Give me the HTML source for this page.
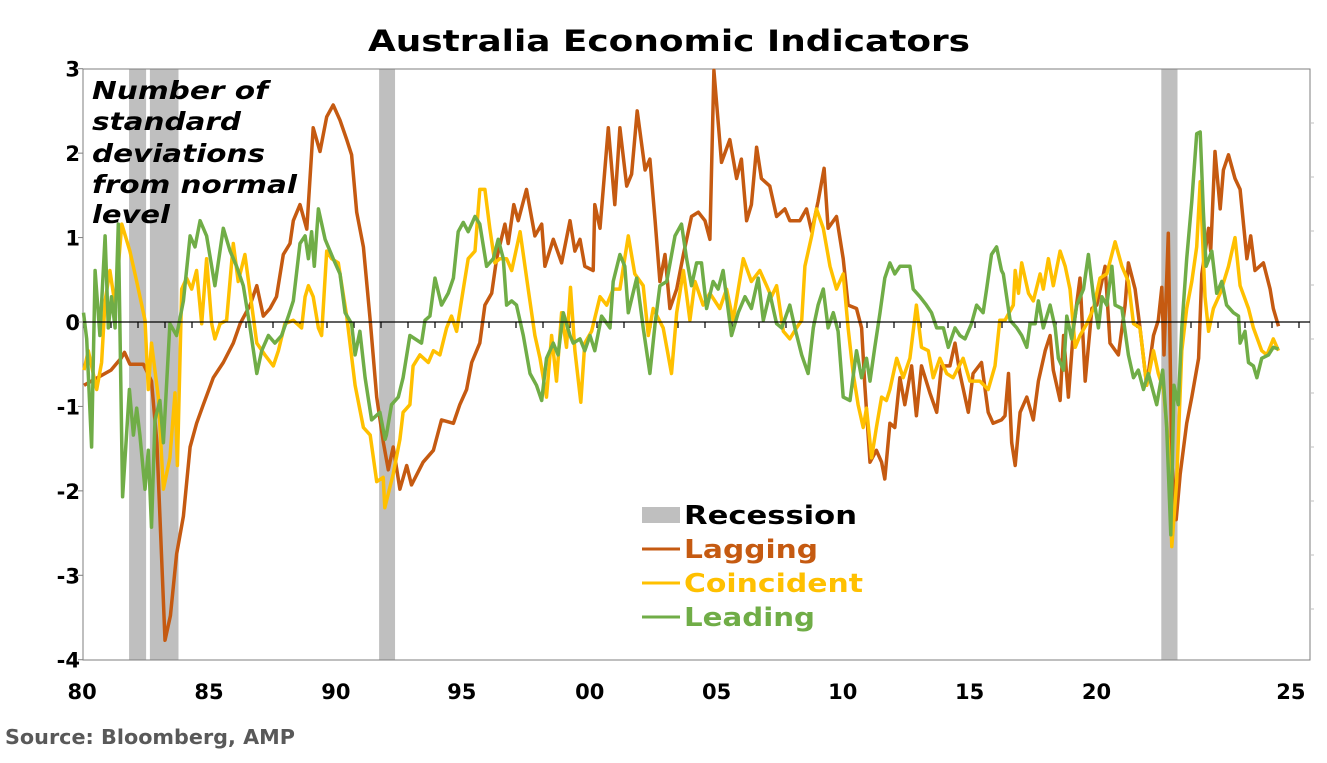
<!DOCTYPE html>
<html><head><meta charset="utf-8"><style>
body{margin:0;background:#fff;width:1327px;height:759px;overflow:hidden;font-family:"DejaVu Sans","Liberation Sans",sans-serif}
</style></head><body>
<svg id="chart" width="1327" height="759" xmlns="http://www.w3.org/2000/svg" font-family="DejaVu Sans, Liberation Sans, sans-serif">
<text x="368" y="51" font-size="29" font-weight="bold" textLength="602" lengthAdjust="spacingAndGlyphs">Australia Economic Indicators</text>
<g id="plot"></g>
<g font-size="25" font-weight="bold" font-style="italic">
<text x="92" y="99" textLength="176" lengthAdjust="spacingAndGlyphs">Number of</text>
<text x="92" y="130" textLength="149" lengthAdjust="spacingAndGlyphs">standard</text>
<text x="92" y="162" textLength="173" lengthAdjust="spacingAndGlyphs">deviations</text>
<text x="92" y="193" textLength="205" lengthAdjust="spacingAndGlyphs">from normal</text>
<text x="92" y="223" textLength="78" lengthAdjust="spacingAndGlyphs">level</text>
</g>
<g font-size="26" font-weight="bold">
<rect x="642" y="507" width="38" height="16" fill="#BFBFBF"/>
<text x="684" y="524" fill="#000" textLength="173" lengthAdjust="spacingAndGlyphs">Recession</text>
<line x1="642" y1="549" x2="680" y2="549" stroke="#C55A11" stroke-width="3"/>
<text x="684" y="558" fill="#C55A11" textLength="134" lengthAdjust="spacingAndGlyphs">Lagging</text>
<line x1="642" y1="583" x2="680" y2="583" stroke="#FFC000" stroke-width="3"/>
<text x="684" y="592" fill="#FFC000" textLength="179" lengthAdjust="spacingAndGlyphs">Coincident</text>
<line x1="642" y1="617" x2="680" y2="617" stroke="#70AD47" stroke-width="3"/>
<text x="684" y="626" fill="#70AD47" textLength="131" lengthAdjust="spacingAndGlyphs">Leading</text>
</g>
<text x="5" y="744" font-size="20" font-weight="bold" fill="#595959" textLength="290" lengthAdjust="spacingAndGlyphs">Source: Bloomberg, AMP</text>
</svg>
<script>
const recStart=[1981.67,1982.44,1990.93,2019.9];
const recEnd=[1982.3,1983.5,1991.52,2020.5];
const yTicks=[3,2,1,0,-1,-2,-3,-4];
const xTickLabels=["80","85","90","95","00","05","10","15","20","25"];
const xLabelYears=[1979.93,1984.63,1989.33,1993.99,1998.73,2003.43,2008.1,2012.8,2017.5,2024.7];
const lagYears=[1980.0,1980.5,1981.0,1981.37,1981.5,1981.7,1982.2,1982.5,1982.7,1983.0,1983.2,1983.43,1983.68,1983.93,1984.17,1984.42,1984.79,1985.16,1985.53,1985.78,1986.15,1986.4,1986.64,1986.89,1987.13,1987.38,1987.63,1987.75,1988.0,1988.25,1988.49,1988.74,1988.99,1989.23,1989.48,1989.73,1989.91,1990.1,1990.35,1990.6,1990.84,1991.09,1991.27,1991.45,1991.7,1991.95,1992.13,1992.56,1992.94,1993.24,1993.68,1993.92,1994.17,1994.36,1994.66,1994.85,1995.1,1995.28,1995.59,1995.71,1995.92,1996.08,1996.39,1996.7,1996.95,1997.07,1997.38,1997.69,1998.0,1998.18,1998.37,1998.55,1998.86,1998.92,1999.11,1999.42,1999.66,1999.85,2000.1,2000.28,2000.49,2000.78,2000.96,2001.15,2001.33,2001.52,2001.7,2001.95,2002.2,2002.5,2002.75,2003.0,2003.18,2003.33,2003.61,2003.92,2004.17,2004.35,2004.54,2004.72,2004.91,2005.09,2005.4,2005.65,2005.96,2006.14,2006.51,2006.76,2006.95,2007.19,2007.41,2007.56,2007.87,2008.12,2008.3,2008.61,2008.8,2008.92,2009.11,2009.35,2009.54,2009.66,2009.85,2010.03,2010.22,2010.4,2010.65,2010.83,2011.02,2011.33,2011.58,2011.76,2012.07,2012.26,2012.44,2012.75,2012.93,2013.24,2013.49,2013.67,2013.98,2014.11,2014.24,2014.36,2014.49,2014.67,2014.92,2015.16,2015.35,2015.6,2015.78,2015.9,2016.15,2016.28,2016.46,2016.65,2016.89,2017.08,2017.33,2017.51,2017.82,2018.0,2018.31,2018.56,2018.68,2018.93,2019.11,2019.36,2019.61,2019.79,2019.92,2020.0,2020.16,2020.29,2020.45,2020.6,2020.84,2021.03,2021.28,2021.4,2021.65,2021.73,2021.89,2022.08,2022.2,2022.39,2022.63,2022.82,2023.07,2023.21,2023.37,2023.68,2023.93,2024.05,2024.24];
const lagVals=[-0.75,-0.66,-0.57,-0.43,-0.36,-0.5,-0.5,-0.7,-1.43,-3.77,-3.48,-2.75,-2.3,-1.48,-1.2,-0.98,-0.66,-0.48,-0.25,-0.02,0.2,0.43,0.07,0.16,0.3,0.8,0.93,1.2,1.39,1.1,2.3,2.02,2.43,2.57,2.39,2.16,1.98,1.3,0.89,0.02,-0.89,-1.43,-1.75,-1.48,-1.98,-1.7,-1.93,-1.66,-1.52,-1.16,-1.2,-0.98,-0.8,-0.48,-0.25,0.2,0.34,0.75,1.16,0.93,1.39,1.2,1.57,1.02,1.16,0.66,0.98,0.7,1.2,0.84,0.98,0.66,0.61,1.39,1.11,2.3,1.39,2.3,1.61,1.75,2.5,1.8,1.93,1.2,0.48,0.8,0.16,0.39,0.8,1.25,1.3,1.2,0.98,2.98,1.89,2.16,1.7,1.93,1.2,1.39,2.07,1.7,1.61,1.25,1.34,1.2,1.2,1.34,1.07,1.43,1.82,1.11,1.25,0.75,0.2,0.16,-0.07,-0.75,-1.66,-1.52,-1.66,-1.86,-1.2,-1.25,-0.66,-0.98,-0.52,-1.11,-0.52,-0.84,-1.07,-0.52,-0.52,-0.25,-0.61,-1.07,-0.61,-0.48,-1.07,-1.2,-1.16,-1.11,-0.61,-1.43,-1.7,-1.07,-0.89,-1.16,-0.7,-0.34,-0.16,-0.57,-0.93,-0.16,-0.89,-0.07,0.52,-0.7,0.16,0.2,0.66,-0.25,-0.39,0.2,0.7,0.39,-0.07,-0.75,-0.16,0.02,0.41,-0.39,1.05,-1.66,-2.34,-1.8,-1.2,-0.89,-0.43,0.57,1.11,0.84,2.02,1.34,1.8,1.98,1.7,1.57,0.75,1.02,0.61,0.7,0.39,0.16,-0.05];
const coinYears=[1980.0,1980.16,1980.47,1980.65,1980.78,1980.96,1981.15,1981.4,1981.7,1981.95,1982.26,1982.38,1982.5,1982.75,1982.94,1983.18,1983.37,1983.46,1983.62,1983.8,1983.99,1984.17,1984.36,1984.54,1984.73,1984.85,1985.04,1985.28,1985.53,1985.71,1985.96,1986.21,1986.4,1986.7,1987.01,1987.2,1987.44,1987.75,1988.06,1988.19,1988.31,1988.49,1988.68,1988.8,1988.99,1989.17,1989.42,1989.73,1990.04,1990.35,1990.6,1990.84,1991.08,1991.14,1991.45,1991.7,1991.82,1992.07,1992.19,1992.44,1992.75,1992.94,1993.18,1993.43,1993.61,1993.8,1994.05,1994.23,1994.48,1994.66,1994.85,1995.03,1995.22,1995.4,1995.65,1995.84,1996.15,1996.45,1996.7,1996.89,1997.13,1997.32,1997.5,1997.69,1997.87,1998.02,1998.18,1998.4,1998.55,1998.8,1999.11,1999.36,1999.6,1999.85,2000.16,2000.4,2000.71,2000.9,2001.08,2001.45,2001.76,2001.95,2002.2,2002.44,2002.63,2002.93,2003.18,2003.55,2003.8,2004.04,2004.42,2004.72,2005.03,2005.28,2005.46,2005.65,2005.9,2006.14,2006.39,2006.58,2006.7,2006.95,2007.13,2007.38,2007.63,2007.87,2008.12,2008.3,2008.49,2008.67,2008.86,2008.98,2009.17,2009.35,2009.54,2009.72,2009.85,2010.1,2010.34,2010.59,2010.83,2011.02,2011.27,2011.45,2011.7,2011.95,2012.19,2012.56,2012.81,2013.18,2013.49,2013.74,2013.92,2014.11,2014.42,2014.49,2014.61,2014.73,2014.98,2015.16,2015.41,2015.53,2015.72,2015.9,2016.15,2016.34,2016.52,2016.71,2016.89,2017.14,2017.39,2017.63,2017.88,2018.19,2018.44,2018.68,2018.87,2019.11,2019.36,2019.61,2019.79,2019.98,2020.16,2020.29,2020.47,2020.66,2020.84,2021.03,2021.21,2021.34,2021.52,2021.65,2021.83,2022.08,2022.39,2022.63,2022.82,2023.13,2023.31,2023.62,2023.81,2024.05,2024.24];
const coinVals=[-0.57,-0.34,-0.8,-0.48,0.25,0.61,0.2,1.16,0.84,0.48,0.02,-0.8,-0.25,-0.89,-1.98,-1.61,-0.84,-1.7,0.39,0.52,0.39,0.61,-0.02,0.75,-0.02,-0.2,-0.02,0.02,0.93,0.48,0.8,0.2,-0.25,-0.39,-0.52,-0.34,-0.02,0.02,-0.07,0.3,0.43,0.3,-0.07,-0.16,0.84,0.75,0.7,0.07,-0.75,-1.25,-1.34,-1.89,-1.84,-2.2,-1.8,-1.39,-1.07,-0.98,-0.52,-0.39,-0.48,-0.34,-0.39,-0.07,0.07,-0.11,0.39,0.75,0.84,1.57,1.57,1.11,0.7,0.75,0.75,0.61,1.07,0.39,-0.16,-0.43,-0.89,-0.16,-0.7,0.11,-0.3,0.41,-0.34,-0.95,-0.25,-0.11,0.3,0.2,0.39,0.39,1.02,0.57,0.43,-0.16,0.16,-0.07,-0.61,0.11,0.61,0.02,0.48,0.2,0.34,0.16,0.39,0.02,0.75,0.48,0.61,0.43,0.3,0.43,-0.11,-0.2,-0.07,0.02,0.66,1.02,1.34,1.11,0.66,0.39,0.57,-0.07,-0.61,-0.98,-1.25,-1.02,-1.61,-1.25,-0.89,-0.93,-0.8,-0.43,-0.66,-0.43,0.2,-0.3,-0.34,-0.66,-0.43,-0.61,-0.66,-0.43,-0.7,-0.7,-0.8,-0.52,0.02,0.02,0.2,0.61,0.34,0.7,0.34,0.25,0.57,0.39,0.75,0.43,0.84,0.66,0.39,-0.3,-0.16,-0.02,0.16,0.52,0.57,0.95,0.66,0.48,-0.02,-0.07,-0.75,-0.34,-0.61,-0.8,-1.43,-2.66,-1.89,-0.34,0.16,0.48,0.89,1.66,0.3,-0.11,0.16,0.34,0.66,1.0,0.43,0.16,-0.07,-0.34,-0.39,-0.2,-0.34];
const leadYears=[1979.98,1980.1,1980.28,1980.41,1980.59,1980.78,1980.9,1981.02,1981.15,1981.27,1981.43,1981.68,1981.83,1981.95,1982.07,1982.26,1982.38,1982.5,1982.63,1982.81,1982.94,1983.18,1983.43,1983.68,1983.93,1984.11,1984.3,1984.54,1984.85,1985.16,1985.41,1985.65,1985.9,1986.15,1986.4,1986.58,1986.83,1987.07,1987.32,1987.57,1987.75,1988.0,1988.19,1988.31,1988.43,1988.53,1988.68,1988.93,1989.23,1989.48,1989.67,1989.91,1990.04,1990.22,1990.41,1990.65,1990.96,1991.15,1991.2,1991.39,1991.64,1991.82,1992.07,1992.5,1992.63,1992.81,1993.0,1993.24,1993.49,1993.68,1993.86,1994.05,1994.23,1994.48,1994.66,1994.91,1995.16,1995.34,1995.53,1995.65,1995.84,1996.02,1996.27,1996.52,1996.76,1996.95,1997.13,1997.38,1997.56,1997.75,1998.0,1998.12,1998.37,1998.55,1998.74,1998.92,1999.17,1999.48,1999.6,1999.85,2000.03,2000.16,2000.47,2000.71,2000.96,2001.15,2001.33,2001.58,2001.89,2002.13,2002.32,2002.5,2002.69,2002.87,2003.06,2003.3,2003.49,2003.67,2003.98,2004.23,2004.48,2004.72,2004.97,2005.16,2005.4,2005.65,2005.84,2006.14,2006.33,2006.58,2006.82,2007.01,2007.19,2007.38,2007.56,2007.75,2007.93,2008.12,2008.37,2008.61,2008.8,2008.98,2009.11,2009.29,2009.48,2009.66,2009.85,2010.03,2010.22,2010.59,2010.71,2010.96,2011.2,2011.39,2011.58,2011.83,2012.01,2012.26,2012.44,2012.63,2012.87,2013.06,2013.3,2013.43,2013.61,2013.8,2013.98,2014.05,2014.3,2014.55,2014.73,2014.92,2015.04,2015.23,2015.35,2015.53,2015.78,2015.97,2016.09,2016.28,2016.4,2016.58,2016.77,2017.02,2017.2,2017.39,2017.57,2017.7,2017.88,2018.07,2018.19,2018.44,2018.68,2018.87,2019.05,2019.24,2019.42,2019.73,2019.95,2020.1,2020.25,2020.37,2020.53,2020.66,2020.84,2021.03,2021.21,2021.34,2021.46,2021.56,2021.77,2021.95,2022.14,2022.32,2022.57,2022.76,2022.82,2023.0,2023.13,2023.31,2023.44,2023.62,2023.87,2024.05,2024.24];
const leadVals=[0.11,-0.2,-1.48,0.61,-0.16,1.02,-0.07,0.3,-0.07,1.16,-2.07,-0.8,-1.34,-1.02,-1.34,-1.98,-1.52,-2.43,-1.16,-0.93,-1.43,-0.02,-0.16,0.25,1.02,0.89,1.2,1.02,0.43,1.11,0.84,0.66,0.43,-0.07,-0.61,-0.34,-0.16,-0.25,-0.16,0.07,0.25,0.93,1.02,0.75,1.07,0.66,1.34,0.98,0.75,0.57,0.11,-0.02,-0.39,-0.11,-0.66,-1.16,-1.07,-1.39,-1.34,-0.98,-0.89,-0.66,-0.16,-0.25,0.02,0.07,0.52,0.2,0.34,0.52,1.07,1.18,1.07,1.25,1.16,0.66,0.75,0.98,0.75,0.2,0.25,0.2,-0.16,-0.61,-0.75,-0.93,-0.43,-0.25,-0.39,0.11,-0.16,-0.25,-0.2,-0.34,-0.16,-0.34,0.07,-0.07,0.48,0.8,0.66,0.11,0.52,-0.07,-0.61,-0.02,0.43,0.48,1.02,1.16,0.75,0.43,0.7,0.7,0.16,0.48,0.39,0.61,-0.16,0.11,0.3,0.16,0.52,0.02,0.34,-0.02,-0.07,0.2,-0.07,-0.39,-0.61,-0.07,0.2,0.39,-0.07,0.11,-0.11,-0.89,-0.93,-0.34,-0.66,-0.43,-0.7,-0.3,0.11,0.52,0.7,0.57,0.66,0.66,0.39,0.3,0.2,0.11,-0.07,-0.07,-0.3,-0.07,-0.16,-0.2,-0.02,0.2,0.11,0.39,0.8,0.89,0.61,0.57,0.02,-0.07,-0.16,-0.3,-0.02,-0.02,0.25,-0.07,0.2,-0.07,-0.43,-0.57,0.07,-0.2,0.2,0.39,0.8,0.3,-0.07,0.3,0.2,0.66,0.2,0.16,-0.39,-0.66,-0.57,-0.8,-0.61,-0.98,-0.57,-1.25,-2.52,-0.75,-0.98,-0.07,0.75,1.43,2.23,2.25,1.3,0.66,0.84,0.34,0.48,0.2,0.11,0.07,-0.25,-0.11,-0.48,-0.52,-0.66,-0.43,-0.39,-0.3,-0.32];

const L=83,R=1310,T=69,B=660;
const xs=y=>84+(y-1980)*27.0;
const ys=v=>322-v*84.43;
const NS="http://www.w3.org/2000/svg";
const plot=document.getElementById('plot');
function mk(tag,attrs,parent){const e=document.createElementNS(NS,tag);for(const k in attrs)e.setAttribute(k,attrs[k]);(parent||plot).appendChild(e);return e;}

for(let i=0;i<recStart.length;i++){
  const r=mk('rect',{x:xs(recStart[i]),y:T,width:xs(recEnd[i])-xs(recStart[i]),height:B-T,fill:'#BFBFBF'});
  
  
}
const frame=mk('rect',{x:L,y:T,width:R-L,height:B-T,fill:'none',stroke:'#7f7f7f','stroke-width':1});


for(let i=0;i<yTicks.length;i++){
  const t=mk('text',{x:80,y:ys(yTicks[i])+8,'text-anchor':'end','font-size':21,'font-weight':'bold'});
  t.textContent=yTicks[i];
  
  
  mk('line',{x1:L-5,x2:L,y1:ys(yTicks[i]),y2:ys(yTicks[i]),stroke:'#7f7f7f'});
}
for(let k=1;k<11;k++){mk('line',{x1:R,x2:R+4,y1:T+k*54,y2:T+k*54,stroke:'#bfbfbf'});}
for(let y=1980;y<=2025;y++){mk('line',{x1:xs(y),x2:xs(y),y1:ys(0),y2:ys(0)+6,stroke:'#000','stroke-width':1.2});}
for(let i=0;i<xTickLabels.length;i++){
  const t=mk('text',{x:xs(xLabelYears[i]),y:699,'text-anchor':'middle','font-size':21,'font-weight':'bold'});
  t.textContent=xTickLabels[i];
  
  
}
function series(years,vals,color,name){
  let d='';for(let i=0;i<years.length;i++)d+=(i?'L':'M')+xs(years[i]).toFixed(1)+' '+ys(vals[i]).toFixed(1);
  const p=mk('path',{d:d,fill:'none',stroke:color,'stroke-width':3.5,'stroke-linejoin':'round'});
  
  
}
series(lagYears,lagVals,'#C55A11','lagging-line');
series(coinYears,coinVals,'#FFC000','coincident-line');
series(leadYears,leadVals,'#70AD47','leading-line');
const z=mk('line',{x1:L,x2:R,y1:ys(0),y2:ys(0),stroke:'#000','stroke-width':1.2});


</script>
</body></html>
